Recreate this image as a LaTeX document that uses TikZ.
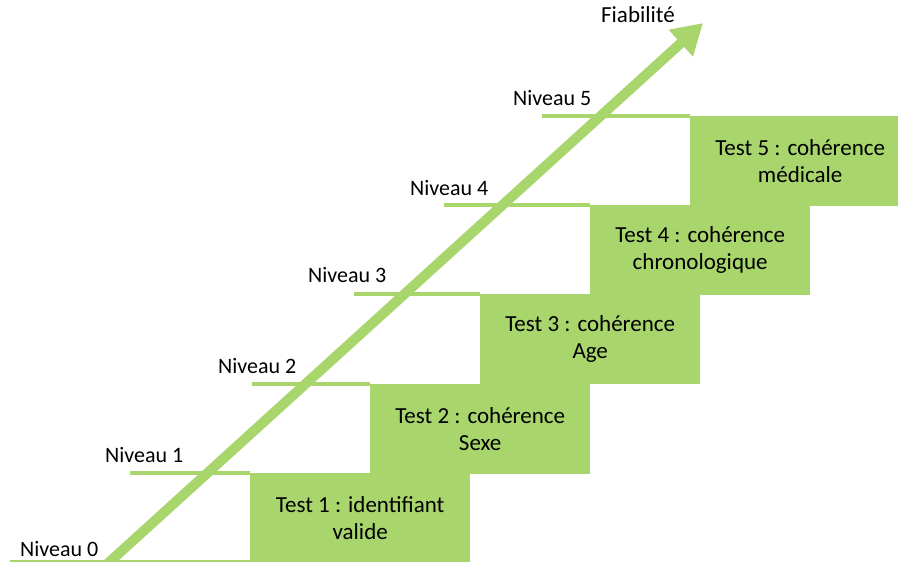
\documentclass[tikz,border=0pt]{standalone}
\usepackage{fontspec}
\setmainfont{Carlito}
\usetikzlibrary{arrows.meta}
\definecolor{stepgreen}{RGB}{168,213,108}
\begin{document}
\begin{tikzpicture}[x=1pt,y=-1pt,
  stage/.style={fill=stepgreen, minimum width=220pt, minimum height=90pt,
    inner sep=0pt, align=center, anchor=north west,
    font=\fontsize{23}{27.5}\selectfont},
  levelline/.style={draw=stepgreen, line width=4pt},
  levellabel/.style={anchor=base west, inner sep=0pt,
    font=\fontsize{22}{26}\selectfont},
  growth/.style={draw=stepgreen, line width=10pt,
    -{Triangle[length=30pt,width=34pt]}}]
\useasboundingbox (0,0) rectangle (898,562);

% staircase of tests
\node[stage] (t1) at (250,473) {Test 1 : identifiant\\valide};
\node[stage] (t2) at (370,384) {Test 2 : cohérence\\Sexe};
\node[stage] (t3) at (480,294) {Test 3 : cohérence\\Age};
\node[stage] (t4) at (590,205) {Test 4 : cohérence\\chronologique};
\node[stage] (t5) at (690,116) {Test 5 : cohérence\\médicale};

% level lines
\coordinate (s0) at (10,561);
\coordinate (s1) at (130,473);
\coordinate (s2) at (252,384);
\coordinate (s3) at (354,294);
\coordinate (s4) at (444,205);
\coordinate (s5) at (542,116);
\draw[levelline, line width=3pt] (s0) -- (s0 -| t1.west);
\draw[levelline] (s1) -- (t1.north west);
\draw[levelline] (s2) -- (t2.north west);
\draw[levelline] (s3) -- (t3.north west);
\draw[levelline] (s4) -- (t4.north west);
\draw[levelline] (s5) -- (t5.north west);

% level labels
\node[levellabel] (n0) at (20,556) {Niveau 0};
\node[levellabel] (n1) at (105,462) {Niveau 1};
\node[levellabel] (n2) at (218,373) {Niveau 2};
\node[levellabel] (n3) at (308,282) {Niveau 3};
\node[levellabel] (n4) at (410,195) {Niveau 4};
\node[levellabel] (n5) at (513,105) {Niveau 5};

% reliability arrow
\coordinate (a0) at (105,566);
\coordinate (a1) at (703,23);
\draw[growth] (a0) -- (a1);
\node[anchor=base, inner sep=0pt, font=\fontsize{23}{27}\selectfont] (fia) at (638,22) {Fiabilité};
\end{tikzpicture}
\end{document}
